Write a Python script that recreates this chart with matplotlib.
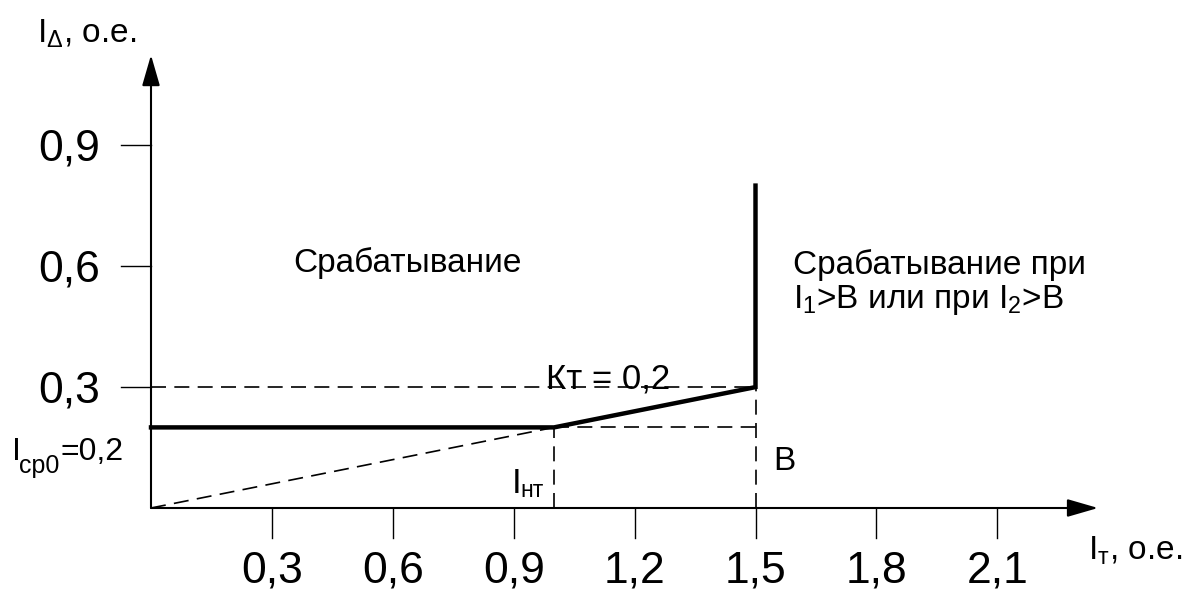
import numpy as np
import matplotlib
matplotlib.use('Agg')
from matplotlib import pyplot as plt

plt.rcParams['font.family'] = ['Liberation Sans', 'DejaVu Sans']
plt.rcParams['mathtext.fontset'] = 'custom'
plt.rcParams['mathtext.rm'] = 'Liberation Sans'
plt.rcParams['mathtext.it'] = 'Liberation Sans:italic'
plt.rcParams['mathtext.bf'] = 'Liberation Sans:bold'

# characteristic parameters
i_sr0 = 0.2      # pickup current
k_t = 0.2        # slope
i_nt = 1.0       # start of slope
b_lim = 1.5      # B
i_top = 0.8      # top of vertical segment

x_ticks = [0.3, 0.6, 0.9, 1.2, 1.5, 1.8, 2.1]
x_labels = ['0,3', '0,6', '0,9', '1,2', '1,5', '1,8', '2,1']
y_ticks = [0.3, 0.6, 0.9]
y_labels = ['0,3', '0,6', '0,9']

# characteristic curve
i_b = i_sr0 + k_t * (b_lim - i_nt)
curve_x = [0, i_nt, b_lim, b_lim]
curve_y = [i_sr0, i_sr0, i_b, i_top]

fig = plt.figure(figsize=(11.86, 5.90), dpi=100)
ax = fig.add_axes([0, 0, 1, 1])
ax.set_xlim(-151 / 403, (1186 - 151) / 403)
ax.set_ylim((508 - 590) / 403, 508 / 403)
ax.axis('off')

# axes with arrows
arr = dict(arrowstyle='-|>,head_length=1.9,head_width=0.55',
           color='black', lw=1.5, shrinkA=0, shrinkB=0)
ax.annotate('', xy=(2.35, 0), xytext=(0, 0), arrowprops=arr)
ax.annotate('', xy=(0, 1.124), xytext=(0, 0), arrowprops=arr)

# tick marks
tick_len = 30 / 403
for xt, lab in zip(x_ticks, x_labels):
    ax.plot([xt, xt], [0, -tick_len], color='black', lw=1.0)
    ax.text(xt, -0.186, lab, fontsize=32, ha='center', va='baseline')
for yt, lab in zip(y_ticks, y_labels):
    ax.plot([-tick_len, 0], [yt, yt], color='black', lw=1.0)
    ax.text(-0.127, yt - 0.038, lab, fontsize=32, ha='right', va='baseline')

# helper dashed lines
dash = dict(color='black', lw=1.2, ls=(0, (9, 5)))
ax.plot([0, i_nt], [0, i_sr0], **dash)
ax.plot([0, b_lim], [i_b, i_b], **dash)
ax.plot([i_nt, b_lim], [i_sr0, i_sr0], **dash)
ax.plot([i_nt, i_nt], [0, i_sr0], **dash)
ax.plot([b_lim, b_lim], [0, i_b], **dash)

ax.plot(curve_x, curve_y, color='black', lw=3.2, solid_joinstyle='miter')

# zone labels
ax.text(0.353, 0.585, 'Срабатывание', fontsize=24, ha='left', va='baseline')
ax.text(1.593, 0.58, 'Срабатывание при', fontsize=24, ha='left', va='baseline')
ax.text(1.593, 0.497, r'I$_{\mathrm{1}}$>B или при I$_{\mathrm{2}}$>B',
        fontsize=24, ha='left', va='baseline')
ax.text(1.134, 0.297, 'Кт = 0,2', fontsize=25, ha='center', va='baseline')
ax.text(1.545, 0.095, 'B', fontsize=24, ha='left', va='baseline')

# I_нт
ax.text(0.896, 0.037, 'I', fontsize=25, ha='left', va='baseline')
ax.text(0.916, 0.027, 'нт', fontsize=16.5, ha='left', va='baseline')

# I_ср0 = 0,2
ax.text(-0.345, 0.119, 'I', fontsize=23, ha='left', va='baseline')
ax.text(-0.3275, 0.087, 'ср0', fontsize=18, ha='left', va='baseline')
ax.text(-0.2258, 0.119, '=0,2', fontsize=23, ha='left', va='baseline')

# axis names
ax.text(-0.283, 1.156, r'I$_{\mathrm{Δ}}$, о.е.', fontsize=24, ha='left', va='baseline')
ax.text(2.325, -0.129, r'I$_{\mathrm{т}}$, о.е.', fontsize=24, ha='left', va='baseline')

fig.savefig('out.png', dpi=100)
